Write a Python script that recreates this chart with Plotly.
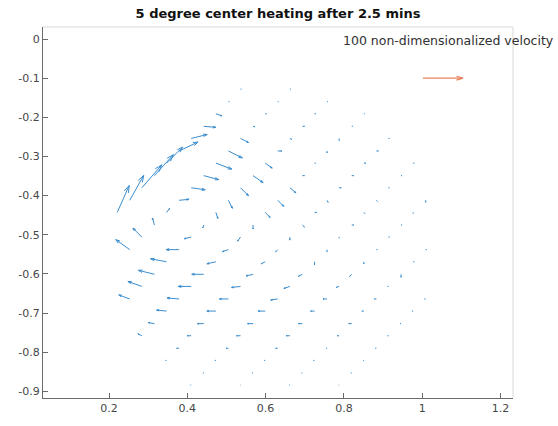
import numpy as np
import plotly.graph_objects as go

# ---- velocity field sampled on the staggered grid (one list per grid row) ----
ROW_Y = [-0.128, -0.160, -0.191, -0.223, -0.254, -0.286, -0.317, -0.349,
         -0.380, -0.412, -0.443, -0.475, -0.506, -0.538, -0.569, -0.601,
         -0.632, -0.664, -0.695, -0.727, -0.758, -0.790, -0.821, -0.853,
         -0.884]

ROW_X = [
    [0.536, 0.662],
    [0.505, 0.631, 0.757],
    [0.473, 0.599, 0.725, 0.851],
    [0.442, 0.568, 0.694, 0.820],
    [0.410, 0.536, 0.662, 0.788, 0.914],
    [0.379, 0.505, 0.631, 0.757, 0.883],
    [0.347, 0.473, 0.599, 0.725, 0.851, 0.977],
    [0.316, 0.442, 0.568, 0.694, 0.820, 0.946],
    [0.284, 0.410, 0.536, 0.662, 0.788, 0.914],
    [0.253, 0.379, 0.505, 0.631, 0.757, 0.883, 1.009],
    [0.221, 0.347, 0.473, 0.599, 0.725, 0.851, 0.977],
    [0.316, 0.442, 0.568, 0.694, 0.820, 0.946],
    [0.284, 0.410, 0.536, 0.662, 0.788, 0.914],
    [0.253, 0.379, 0.505, 0.631, 0.757, 0.883, 1.009],
    [0.347, 0.473, 0.599, 0.725, 0.851, 0.977],
    [0.316, 0.442, 0.568, 0.694, 0.820, 0.946],
    [0.284, 0.410, 0.536, 0.662, 0.788, 0.914],
    [0.253, 0.379, 0.505, 0.631, 0.757, 0.883, 1.009],
    [0.347, 0.473, 0.599, 0.725, 0.851, 0.977],
    [0.316, 0.442, 0.568, 0.694, 0.820, 0.946],
    [0.284, 0.410, 0.536, 0.662, 0.788, 0.914],
    [0.379, 0.505, 0.631, 0.757, 0.883],
    [0.347, 0.473, 0.599, 0.725, 0.851],
    [0.442, 0.568, 0.694, 0.820],
    [0.410, 0.536, 0.662, 0.788],
]

# horizontal velocity component (non-dimensionalized)
ROW_U = [
    [2, 2],
    [2, 2, 2],
    [15, 3, 3, 2],
    [30, 5, 5, 2.5],
    [40, 20, 5, 0, 2.5],
    [47.5, 35, 10, 0, 5],
    [40, 40, 17.5, 2.5, 5, 2.5],
    [47.5, 37.5, 25, 5, 5, 2.5],
    [50, 35, 20, 15, 5, 2.5],
    [35, 25, 10, 15, 2.5, 2.5, 0],
    [30, 7.5, 5, 12.5, 5, 2.5, 0],
    [-5, -2.5, 0, 5, 5, 2.5],
    [-22.5, -17.5, -7.5, 0, 0, 2.5],
    [-35, -32.5, -15, -5, 0, 2.5, 2.5],
    [-40, -22.5, -10, 0, 0, 2.5],
    [-40, -30, -17.5, -10, -5, 0],
    [-35, -32.5, -22.5, -15, -7.5, -2.5],
    [-27.5, -30, -22.5, -17.5, -10, -5, -2.5],
    [-25, -22.5, -17.5, -10, -5, -2.5],
    [-15, -16, -14, -10, -7.5, -2.5],
    [-10, -10, -10, -9, -5, -2.5],
    [-6, -6, -5, -2.5, -2.5],
    [-2.5, -2.5, -2.5, -2.5, -2],
    [-2, -2, -2, -2],
    [-1.5, -1.5, -1.5, -1.5],
]

# vertical velocity component (non-dimensionalized)
ROW_V = [
    [0, 0],
    [0, 0, 0],
    [-5, 0, 0, 0],
    [-2.5, -1, 0, 0],
    [10, -10, -2.5, -5, 0],
    [22.5, -17.5, 0, -5, 0],
    [40, -15, -12.5, 0, 0, 0],
    [52.5, -10, -17.5, 0, 0, 0],
    [57.5, -5, -20, -12.5, 0, 0],
    [62.5, 2.5, -20, -15, -5, -2.5, -5],
    [67.5, 10, -15, -12.5, 0, -2.5, -2.5],
    [17.5, -7.5, -10, -5, 0, 0],
    [22.5, -4, -10, -7.5, -2.5, 0],
    [25, 0, -5, -5, -5, 0, 0],
    [7.5, -5, -5, -7.5, -5, 0],
    [10, 0, -4, -5, -5, -7.5],
    [12.5, 0, -2.5, -5, -2.5, 0],
    [10, 2.5, 0, -2.5, 0, 0, 0],
    [2.5, 0, 0, 0, 0, 0],
    [2.5, 0, 0, 0, 0, 0],
    [5, 0, 0, 0, 0, 0],
    [0, 0, 0, 0, 0],
    [0, 0, 0, 0, 0],
    [0, 0, 0, 0],
    [0, 0, 0, 0],
]

# reference vector
REF_X, REF_Y = 1.002, -0.100
REF_U, REF_V = 100.0, 0.0
REF_LABEL = "100 non-dimensionalized velocity"
REF_LABEL_POS = (1.068, -0.005)

TITLE = "5 degree center heating after 2.5 mins"
X_TICKS = [0.2, 0.4, 0.6, 0.8, 1.0, 1.2]
X_TICKTEXT = ["0.2", "0.4", "0.6", "0.8", "1", "1.2"]
Y_TICKS = [0, -0.1, -0.2, -0.3, -0.4, -0.5, -0.6, -0.7, -0.8, -0.9]
Y_TICKTEXT = ["0", "-0.1", "-0.2", "-0.3", "-0.4", "-0.5", "-0.6", "-0.7", "-0.8", "-0.9"]

X_RANGE = [0.0314, 1.232]
Y_RANGE = [-0.917, 0.0307]

SCALE = 0.00102          # data units per unit of velocity
HEAD_ALPHA = 0.24        # arrow-head length relative to the vector
HEAD_BETA = 0.33         # arrow-head half width relative to the head


def quiver_lines(x, y, u, v, scale, alpha=HEAD_ALPHA, beta=HEAD_BETA):
    """Shaft + V-shaped head polylines, separated by None, like MATLAB quiver."""
    x = np.asarray(x, float)
    y = np.asarray(y, float)
    u = np.asarray(u, float) * scale
    v = np.asarray(v, float) * scale
    xs, ys = [], []
    eps = 1e-12
    for xi, yi, ui, vi in zip(x, y, u, v):
        xe, ye = xi + ui, yi + vi
        xs += [xi, xe, None]
        ys += [yi, ye, None]
        h1x = xe - alpha * (ui + beta * (vi + eps))
        h1y = ye - alpha * (vi - beta * (ui + eps))
        h2x = xe - alpha * (ui - beta * (vi + eps))
        h2y = ye - alpha * (vi + beta * (ui + eps))
        xs += [h1x, xe, h2x, None]
        ys += [h1y, ye, h2y, None]
    return xs, ys


px, py, pu, pv = [], [], [], []
for yv, xr, ur, vr in zip(ROW_Y, ROW_X, ROW_U, ROW_V):
    px += xr
    py += [yv] * len(xr)
    pu += ur
    pv += vr

fx, fy = quiver_lines(px, py, pu, pv, SCALE)
rx, ry = quiver_lines([REF_X], [REF_Y], [REF_U], [REF_V], SCALE, alpha=0.16, beta=0.3)

FONT = "DejaVu Sans, Liberation Sans, Arial, sans-serif"

fig = go.Figure()
fig.add_trace(go.Scatter(x=fx, y=fy, mode="lines",
                         line=dict(color="#3b8dcd", width=1),
                         hoverinfo="skip", showlegend=False))
fig.add_trace(go.Scatter(x=rx, y=ry, mode="lines",
                         line=dict(color="#e8825c", width=1.3),
                         hoverinfo="skip", showlegend=False))

fig.add_annotation(x=REF_LABEL_POS[0], y=REF_LABEL_POS[1], xref="x", yref="y",
                   text=REF_LABEL, showarrow=False,
                   font=dict(family=FONT, size=12.5, color="#303030"))

axis_common = dict(showgrid=False, zeroline=False, showline=True,
                   linecolor="#6b6b6b", linewidth=1, ticks="inside",
                   ticklen=5, tickcolor="#6b6b6b", mirror=False,
                   tickfont=dict(family=FONT, size=11, color="#474747"))

fig.update_xaxes(range=X_RANGE, tickvals=X_TICKS, ticktext=X_TICKTEXT,
                 **axis_common)
fig.update_yaxes(range=Y_RANGE, tickvals=Y_TICKS, ticktext=Y_TICKTEXT,
                 **axis_common)

# light top and right box edges
fig.add_shape(type="line", xref="paper", yref="paper", x0=0, x1=1, y0=1, y1=1,
              line=dict(color="#d9d9d9", width=1))
fig.add_shape(type="line", xref="paper", yref="paper", x0=1, x1=1, y0=0, y1=1,
              line=dict(color="#d9d9d9", width=1))

fig.update_layout(
    width=558, height=426, autosize=False,
    margin=dict(l=43, r=45, t=27, b=28),
    plot_bgcolor="white", paper_bgcolor="white",
    title=dict(text="<b>" + TITLE + "</b>", x=0.5, xref="paper",
               y=1 - 13 / 426, yref="container", yanchor="middle",
               xanchor="center",
               font=dict(family=FONT, size=13, color="#111111")),
)

fig.write_html("out.html")
